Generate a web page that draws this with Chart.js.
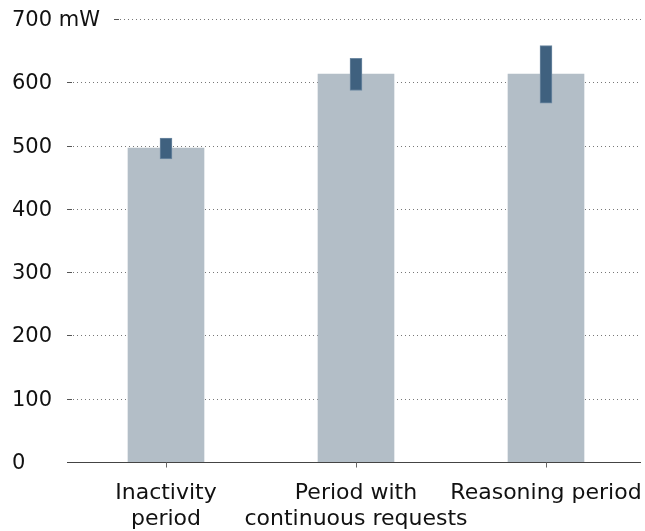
<!DOCTYPE html>
<html>
<head>
<meta charset="utf-8">
<script src="https://cdn.jsdelivr.net/npm/chart.js@4.4.1/dist/chart.umd.min.js"></script>
<style>
  html, body { margin: 0; padding: 0; background: #fff; }
  canvas { display: block; }
</style>
</head>
<body>
<canvas id="powerChart" width="645" height="531"></canvas>
<script>
const categories = [['Inactivity', 'period'], ['Period with', 'continuous requests'], 'Reasoning period'];
const meanPower = [496, 613, 613];
const rangeLow = [479, 587, 567];
const rangeHigh = [512, 638, 658];
const yTicks = [0, 100, 200, 300, 400, 500, 600, 700];
const yUnit = 'mW';

const fontFamily = '"DejaVu Sans", sans-serif';
const yFont = '21px ' + fontFamily;

// y labels, dotted grid and short tick dashes, drawn behind the bars
const gridPlugin = {
  id: 'gridPlugin',
  beforeDatasetsDraw(chart) {
    const ctx = chart.ctx;
    const y = chart.scales.y;
    const right = chart.chartArea.right;
    ctx.save();
    ctx.font = yFont;
    ctx.textBaseline = 'middle';
    ctx.textAlign = 'left';
    yTicks.forEach((v, i) => {
      const label = i === yTicks.length - 1 ? v + ' ' + yUnit : String(v);
      const py = Math.round(y.getPixelForValue(v)) + 0.5;
      ctx.fillStyle = '#111';
      ctx.fillText(label, 12, py + 1);
      if (v === 0) return;
      let start = 67;
      if (i === yTicks.length - 1) {
        start = Math.round(12 + ctx.measureText(label).width + 14);
      }
      ctx.strokeStyle = '#555';
      ctx.lineWidth = 1;
      ctx.setLineDash([]);
      ctx.beginPath();
      ctx.moveTo(start, py);
      ctx.lineTo(start + 5, py);
      ctx.stroke();
      ctx.strokeStyle = '#777';
      ctx.setLineDash([1, 3]);
      ctx.beginPath();
      ctx.moveTo(start + 6, py);
      ctx.lineTo(right, py);
      ctx.stroke();
    });
    ctx.restore();
  },
  afterDatasetsDraw(chart) {
    const ctx = chart.ctx;
    const y = chart.scales.y;
    const x = chart.scales.x;
    const py = Math.round(y.getPixelForValue(0)) + 0.5;
    ctx.save();
    ctx.strokeStyle = '#444';
    ctx.lineWidth = 1;
    ctx.beginPath();
    ctx.moveTo(67, py);
    ctx.lineTo(chart.chartArea.right, py);
    ctx.stroke();
    ctx.strokeStyle = '#666';
    categories.forEach((c, i) => {
      const px = Math.round(x.getPixelForValue(i)) + 0.5;
      ctx.beginPath();
      ctx.moveTo(px, py);
      ctx.lineTo(px, py + 5);
      ctx.stroke();
    });
    ctx.restore();
  }
};

new Chart(document.getElementById('powerChart').getContext('2d'), {
  type: 'bar',
  data: {
    labels: categories,
    datasets: [
      {
        data: rangeLow.map((lo, i) => [lo, rangeHigh[i]]),
        backgroundColor: '#3f617f',
        borderColor: '#6f8aa3',
        borderWidth: 1,
        borderSkipped: false,
        barThickness: 12,
        grouped: false,
        order: 0
      },
      {
        data: meanPower,
        backgroundColor: '#b3bec7',
        borderWidth: 0,
        barThickness: 76,
        grouped: false,
        order: 1
      }
    ]
  },
  options: {
    responsive: false,
    animation: false,
    layout: { padding: { left: 12, top: 19, right: 4, bottom: 0 } },
    plugins: { legend: { display: false }, tooltip: { enabled: false } },
    scales: {
      x: {
        grid: { display: false, drawTicks: false },
        border: { display: false },
        ticks: {
          color: '#111',
          font: { family: fontFamily, size: 22, lineHeight: 1.15 },
          padding: 19,
          maxRotation: 0,
          autoSkip: false
        },
        afterFit(scale) {
          scale.height = 69;
          scale.paddingLeft = 0;
          scale.paddingRight = 0;
        }
      },
      y: {
        min: 0,
        max: 700,
        grid: { display: false, drawTicks: false },
        border: { display: false },
        ticks: { display: false, stepSize: 100 },
        afterFit(scale) { scale.width = 59; }
      }
    }
  },
  plugins: [gridPlugin]
});
</script>
</body>
</html>
